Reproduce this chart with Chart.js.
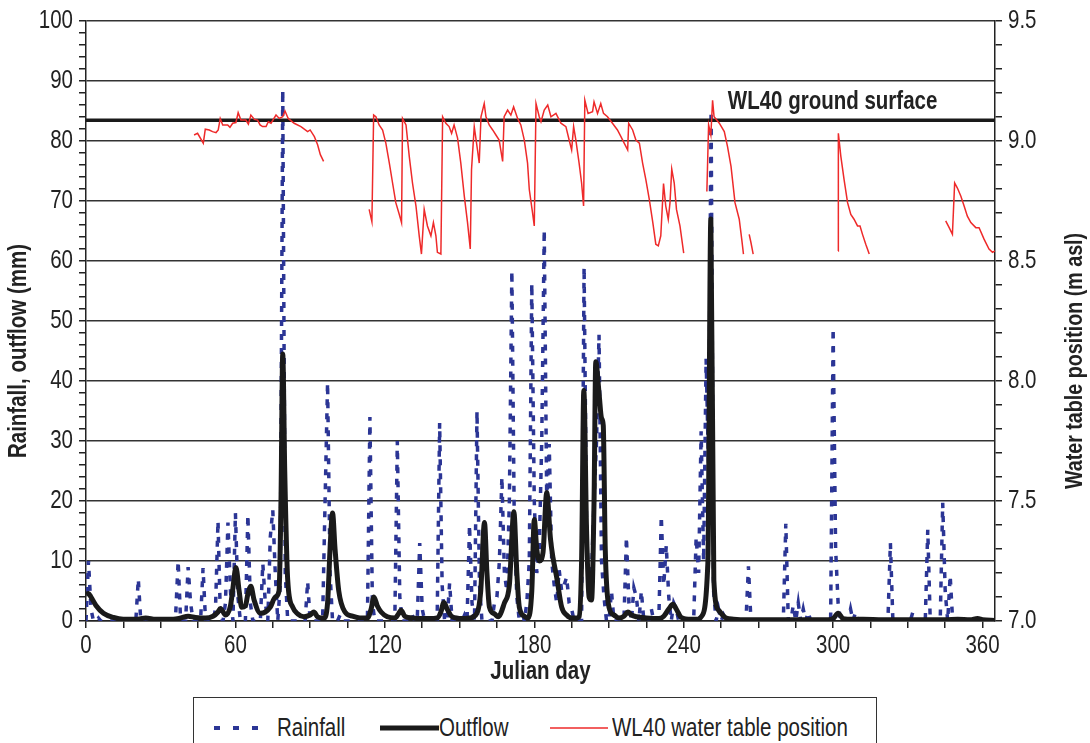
<!DOCTYPE html>
<html>
<head>
<meta charset="utf-8">
<script src="https://cdn.jsdelivr.net/npm/chart.js@4"></script>
<style>
  html, body { margin: 0; padding: 0; background: #fff; }
  #wrap { position: relative; width: 1090px; height: 743px; overflow: hidden; }
  canvas { position: absolute; left: 0; top: 0; }
  #legend {
    position: absolute; left: 193px; top: 697px; width: 684px; height: 60px;
    border: 1px solid #333; box-sizing: border-box; background: #fff;
    font-family: 'Liberation Sans', Arial, sans-serif;
    font-size: 25px; color: #222;
  }
  #legend .item {
    position: absolute; top: 14px; line-height: 30px; white-space: nowrap;
    transform: scaleX(0.82); transform-origin: 0 50%;
  }
  #legend svg { position: absolute; }
</style>
</head>
<body>
<div id="wrap">
  <canvas id="c" width="1090" height="743"></canvas>
  <div id="legend">
    <svg style="left:18px;top:26px" width="50" height="8"><line x1="2" y1="4" x2="48" y2="4" stroke="#2b3595" stroke-width="4" stroke-dasharray="6,13"/></svg>
    <span class="item" style="left:83px">Rainfall</span>
    <svg style="left:186px;top:25px" width="60" height="10"><line x1="0" y1="5" x2="59" y2="5" stroke="#1a1a1a" stroke-width="5"/></svg>
    <span class="item" style="left:245px">Outflow</span>
    <svg style="left:356px;top:26px" width="60" height="8"><line x1="0" y1="4" x2="58" y2="4" stroke="#ee2a2a" stroke-width="1.5"/></svg>
    <span class="item" style="left:418px">WL40 water table position</span>
  </div>
</div>
<script>
// Daily rainfall (mm): wet days only, every other day is dry
const rainDays = [1,2,5,21,25,36,37,41,42,47,52,53,56,57,58,60,61,65,66,71,72,74,75,76,78,79,80,89,
  96,97,98,102,114,115,125,126,131,134,135,140,142,143,146,152,154,155,157,158,
  164,165,166,167,168,169,170,171,172,173,175,177,178,179,180,181,182,183,184,185,186,187,188,189,190,191,192,193,194,195,
  200,201,202,203,204,205,206,207,208,211,217,218,220,221,223,227,231,232,233,234,236,237,
  245,246,247,248,249,250,251,252,254,256,266,281,284,286,288,290,300,301,302,307,309,323,332,338,344,345,347,358];
const rainMm = [10,2,0.5,7,0.5,1,10,9,3,8.8,2,16.7,3,16.4,5,18,4,17.7,3,9.6,3,14,18.5,8,6,88.5,8,6.6,
  20,39.7,8,1,34,3,30,4,1,13,2,1,33,6,6.3,1,16,3,35,6,
  3,4,10,24,8,5,20,58.4,15,4,2,3,10,56.3,20,8,12,30,65.2,20,29.5,10,6,3,8.5,5,6,7.3,3,2,
  59,15,5,8,20,30,47.7,10,4,5,14,3,5.5,4,5,2,17.5,6,12.6,4,3,2,
  14,8,31.6,10,43.7,25,85,5,2,1,9.1,16.2,2.6,3,2,1.5,48.8,12,3,2,1.5,13,1.5,15.2,19.7,5,7.6,0.5];

// Catchment outflow (mm/day), read at the turning points of the hydrograph
const outflowDays = [0,1,2,4,7,11,15,20,24,28,35,38,41,44,48,51,53,54,56,58,59,60.2,61.5,62.5,64,65,66.2,67.5,70,72,74,76,77.5,78.3,79,79.8,81,83,85,87.5,90,91.5,93,95.5,
  97,98,99,100,101.5,104,107,110,113,114.5,115.6,117,118.5,121,124,125.5,126.5,128,131,135,138,141,142.5,143.7,145,147,151,154,157,158.5,160,161,162,164,165.5,
  168,170,171.8,173,174,176,177.5,179,180,181,182,183.5,185,186.5,187.5,189,191,193,195,197,198,199,199.9,201,202,203,204,204.7,206,207,207.7,208.5,210,212,214,216,217.6,219,221,225,230,
  232,234,235.7,237,239,243,246,247,249.7,250.9,252.1,254,257,260,265,280,298,300,302,304,308,312,320,335,345,350,355,358,360,365];
const outflowMm = [4.5,4.6,4.0,2.6,1.3,0.6,0.3,0.3,0.5,0.3,0.3,0.5,0.8,0.6,0.5,0.8,1.5,2.1,1.0,2.5,5.5,8.9,5,2.3,2.5,4.5,5.8,3.5,1.3,1.5,2.3,4,5,20,44.5,25,6.8,2.3,1.2,0.7,1.0,1.5,0.7,0.5,
  3,12,18,12,5,1.5,0.8,0.5,0.5,2,4,2.5,1.5,0.7,0.5,1.2,1.8,0.8,0.5,0.4,0.4,0.5,1.5,3.1,2,0.7,0.4,0.5,1.3,5,16.4,8,2.3,1.2,0.7,
  3,6,18.2,8,2.3,0.8,0.5,5,16.9,12,10,11.4,21.4,13.7,10.6,7.3,2.3,1,0.5,0.5,0.7,10,38.4,15,4,3.5,20,43.2,38,33.8,32.6,12,2.3,1,0.5,0.8,1.5,1,0.7,0.5,0.4,
  0.8,2,2.8,2,0.6,0.3,0.3,0.7,9.6,67,6.8,1.8,0.5,0.3,0.2,0.2,0.2,0.4,1.3,0.4,0.3,0.3,0.2,0.2,0.2,0.3,0.2,0.4,0.2,0.1];

// WL40 water table position (m asl); null marks a break in the logger record
const wlDays = [43.4,44.8,47.1,47.9,49.5,50.8,52.2,53.1,53.9,54.9,56.9,57.8,58.9,60.2,61.1,62.2,64.2,65.2,66.2,67.6,68.9,69.9,70.9,72.3,73.2,74.3,76.3,77.6,79,79.9,81.2,83.6,86.3,89,90,91.7,93,94.1,95.4,
  null,
  113.7,114.8,115.5,116.4,117.7,119.1,120.4,121.8,123.1,124.4,125.8,126.7,127.1,128.5,129.8,131.1,132.5,133.8,134.7,135.8,137.1,138.5,139.5,140.5,141.1,142.5,143.2,144.5,145.8,146.8,147.8,149.2,150.5,151.9,153.2,154.3,154.8,155.9,157.2,157.9,158.6,159.9,160.6,161.9,163.3,164.6,165.9,167.3,167.9,169.3,170.6,171.7,173.3,174.6,176,177.3,178,179.3,180,180.7,182,
  182.7,184,185.4,186.7,188.7,190.7,192.7,194,195,195.8,196.7,198,199,199.8,200.3,201.6,203.4,204,205.4,206.7,207.8,209.4,211.4,213.4,214.8,216.1,217.5,217.9,219.5,220.8,222.2,223.5,224.8,226.2,227.6,228.8,229.8,230.8,231.9,232.8,233.8,234.5,235.2,236.2,237.1,238.5,240,
  null,
  249.3,250,250.9,251.6,252.2,254.3,256.3,257.6,259,260.6,262.3,263.3,264,
  null,
  266.3,267,267.9,
  null,
  302,302.1,303.1,304.4,305.8,307.1,308.4,309.8,310.8,311.8,313.1,314.5,
  null,
  345.2,346.6,347.9,348.8,349.9,351.3,352.6,353.9,355.3,357.3,358.6,360.6,362.6,364,365];
const wlLevels = [9.025,9.032,8.991,9.049,9.046,9.039,9.035,9.046,9.094,9.067,9.067,9.057,9.074,9.077,9.118,9.087,9.087,9.07,9.108,9.09,9.087,9.067,9.06,9.06,9.08,9.074,9.108,9.094,9.101,9.125,9.094,9.074,9.06,9.039,9.046,9.018,8.984,8.943,8.915,
  null,
  8.715,8.664,9.108,9.101,9.067,9.046,8.991,8.908,8.825,8.743,8.694,8.66,9.094,9.067,8.936,8.825,8.729,8.605,8.529,8.715,8.646,8.605,8.66,8.605,8.536,8.529,9.101,9.074,9.06,9.032,9.067,9.012,8.908,8.77,8.66,8.55,8.88,9.06,8.963,8.908,9.101,9.156,9.101,9.067,9.046,9.025,9.004,8.915,9.101,9.129,9.108,9.142,9.094,9.067,9.004,8.908,8.798,8.701,8.646,9.156,9.101,
  9.08,9.129,9.15,9.101,9.115,9.074,9.06,9.004,8.963,9.06,9.004,8.908,8.825,8.729,9.17,9.115,9.122,9.163,9.115,9.156,9.115,9.101,9.074,9.046,9.018,8.991,8.963,9.074,9.046,9.004,8.991,8.908,8.839,8.756,8.66,8.57,8.563,8.605,8.823,8.729,8.674,8.743,8.883,8.825,8.715,8.646,8.533,
  null,
  8.79,9.067,9.025,9.17,9.101,9.074,9.039,8.977,8.894,8.743,8.674,8.591,8.529,
  null,
  8.611,8.577,8.529,
  null,
  8.542,9.032,8.936,8.839,8.743,8.694,8.674,8.646,8.646,8.611,8.57,8.529,
  null,
  8.667,8.639,8.611,8.825,8.804,8.77,8.729,8.687,8.66,8.639,8.639,8.591,8.55,8.536,8.542];

// Ground surface elevation at WL40 (m asl)
const groundSurface = 9.086;
const groundLabel = 'WL40 ground surface';
const leftTitle = 'Rainfall, outflow (mm)';
const rightTitle = 'Water table position (m asl)';
const lastDay = 365;

const FONT = "'Liberation Sans', Arial, sans-serif";
const INK = '#222';
const TEXT_STRETCH = 0.82;   // narrow lettering, Helvetica Narrow style

// full daily rainfall series, dry days at zero
const rainByDay = new Map(rainDays.map((d, i) => [d, rainMm[i]]));
const rainPoints = [];
for (let d = 0; d <= lastDay; d++) rainPoints.push({ x: d, y: rainByDay.get(d) || 0 });

const outflowPoints = outflowDays.map((d, i) => ({ x: d, y: outflowMm[i] }));
const wlPoints = wlDays.map((d, i) => ({ x: d === null ? NaN : d, y: wlLevels[i] }));
const groundPoints = [{ x: 0, y: groundSurface }, { x: lastDay, y: groundSurface }];

const isMultiple = (v, step) => Math.abs(v / step - Math.round(v / step)) < 1e-6;

// draw all canvas text horizontally condensed about its anchor point
const narrowText = {
  id: 'narrowText',
  beforeDraw(chart) {
    const ctx = chart.ctx;
    if (ctx.__narrow) return;
    const fill = ctx.fillText;
    ctx.fillText = function (t, x, y) {
      this.save();
      this.translate(x, y);
      this.scale(TEXT_STRETCH, 1);
      fill.call(this, t, 0, 0);
      this.restore();
    };
    ctx.__narrow = true;
  }
};

// ground-surface label plus both vertical axis titles (read bottom to top)
const annotations = {
  id: 'annotations',
  afterDraw(chart) {
    const { ctx, scales, chartArea } = chart;
    ctx.save();
    ctx.fillStyle = INK;
    ctx.font = `bold 25px ${FONT}`;
    ctx.textBaseline = 'middle';
    ctx.textAlign = 'left';
    ctx.fillText(groundLabel, scales.x.getPixelForValue(257.7),
      scales.y2.getPixelForValue(groundSurface) - 18);

    ctx.textAlign = 'center';
    const midY = (chartArea.top + chartArea.bottom) / 2;
    ctx.save();
    ctx.translate(19, midY + 30);
    ctx.rotate(-Math.PI / 2);
    ctx.fillText(leftTitle, 0, 0);
    ctx.restore();

    ctx.save();
    ctx.font = `bold 24px ${FONT}`;
    ctx.translate(1075, midY + 40);
    ctx.rotate(-Math.PI / 2);
    ctx.fillText(rightTitle, 0, 0);
    ctx.restore();
    ctx.restore();
  }
};

new Chart(document.getElementById('c'), {
  type: 'line',
  data: {
    datasets: [
      {
        label: 'WL40 water table position',
        data: wlPoints, yAxisID: 'y2',
        borderColor: '#ee2a2a', borderWidth: 1.5, pointRadius: 0,
        spanGaps: false, tension: 0, order: 0
      },
      {
        label: groundLabel,
        data: groundPoints, yAxisID: 'y2',
        borderColor: '#1a1a1a', borderWidth: 3.5, pointRadius: 0, order: 1
      },
      {
        label: 'Outflow',
        data: outflowPoints, yAxisID: 'y',
        borderColor: '#1a1a1a', borderWidth: 5, pointRadius: 0,
        cubicInterpolationMode: 'monotone', borderJoinStyle: 'round', order: 2
      },
      {
        label: 'Rainfall',
        data: rainPoints, yAxisID: 'y',
        borderColor: '#2b3595', borderWidth: 3.5, borderDash: [6, 8],
        pointRadius: 0, tension: 0, order: 3
      }
    ]
  },
  options: {
    responsive: false,
    animation: false,
    devicePixelRatio: 1,
    layout: { padding: { top: 17, left: 0, right: 0, bottom: 0 } },
    plugins: { legend: { display: false }, tooltip: { enabled: false } },
    scales: {
      x: {
        type: 'linear', position: 'bottom', min: 0, max: lastDay,
        afterFit(s) { s.height = 122; },
        ticks: {
          stepSize: 15, autoSkip: false, includeBounds: false, maxRotation: 0,
          padding: 3, color: INK, font: { family: FONT, size: 25 },
          callback: v => isMultiple(v, 60) ? String(v) : ''
        },
        grid: { drawOnChartArea: false, tickLength: 7, color: INK, lineWidth: 1.5 },
        border: { color: INK, width: 1.5 },
        title: {
          display: true, text: 'Julian day', color: INK,
          font: { family: FONT, size: 25, weight: 'bold' },
          padding: { top: 0, bottom: 56 }
        }
      },
      y: {
        position: 'left', min: 0, max: 100,
        afterFit(s) { s.width = 86; },
        ticks: {
          stepSize: 2, autoSkip: false, padding: 6, color: INK,
          font: { family: FONT, size: 25 },
          callback: v => isMultiple(v, 10) ? String(v) : ''
        },
        grid: {
          tickLength: 7, lineWidth: 1.5,
          color: c => (c.tick && isMultiple(c.tick.value, 10)) ? '#333' : 'rgba(0,0,0,0)',
          tickColor: INK
        },
        border: { color: INK, width: 1.5 }
      },
      y2: {
        position: 'right', min: 7, max: 9.5,
        afterFit(s) { s.width = 95; },
        ticks: {
          stepSize: 0.1, autoSkip: false, padding: 6, color: INK,
          font: { family: FONT, size: 25 },
          callback: v => isMultiple(v, 0.5) ? v.toFixed(1) : ''
        },
        grid: { drawOnChartArea: false, tickLength: 7, lineWidth: 1.5, color: INK },
        border: { color: INK, width: 1.5 }
      }
    }
  },
  plugins: [narrowText, annotations]
});
</script>
</body>
</html>
